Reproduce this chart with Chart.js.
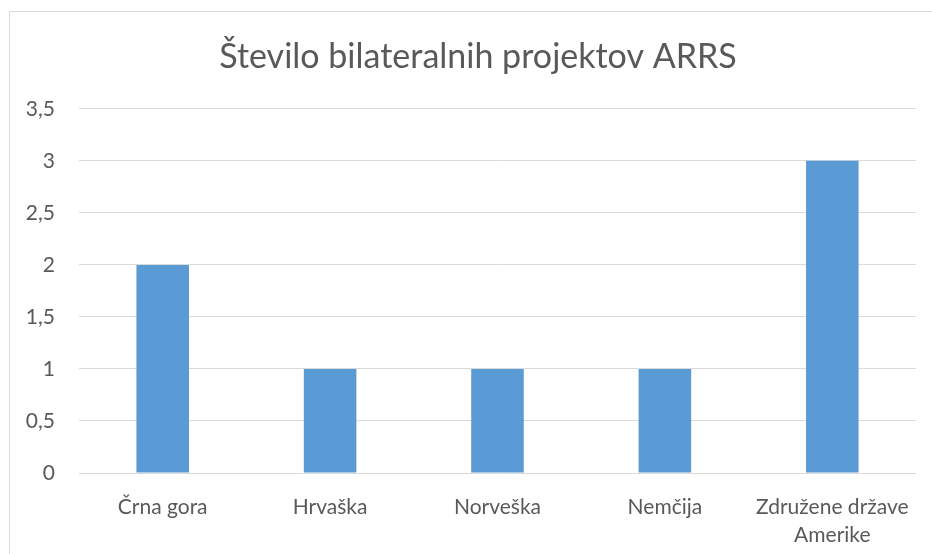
<!DOCTYPE html>
<html>
<head>
<meta charset="utf-8">
<script src="https://cdn.jsdelivr.net/npm/chart.js@4"></script>
<style>
  body { margin: 0; background: #fff; }
  #frame { position: absolute; left: 9px; top: 11px; width: 960px; height: 580px; border: 1px solid #d9d9d9; }
  #wrap { position: absolute; left: 0; top: 0; width: 932px; height: 554px; }
</style>
</head>
<body>
<div id="frame"></div>
<div id="wrap"><canvas id="chart"></canvas></div>
<script>
const categories = ['Črna gora', 'Hrvaška', 'Norveška', 'Nemčija', ['Združene države', 'Amerike']];
const projects = [2, 1, 1, 1, 3];
const chartTitle = 'Število bilateralnih projektov ARRS';

const textColor = '#595959';
const gridColor = '#d9d9d9';

// the original title sits a bit right of the canvas centre
const titleShift = {
    id: 'titleShift',
    afterLayout(chart) {
        if (chart.titleBlock) chart.titleBlock.left += 40;
    }
};

function initializeChart() {
    const ctx = document.getElementById('chart').getContext('2d');
    new Chart(ctx, {
        type: 'bar',
        data: {
            labels: categories,
            datasets: [{
                label: chartTitle,
                data: projects,
                backgroundColor: '#5b9bd5',
                categoryPercentage: 1,
                barPercentage: 0.314
            }]
        },
        options: {
            responsive: true,
            maintainAspectRatio: false,
            animation: false,
            layout: { padding: { left: 0, right: 16, top: 0, bottom: 0 } },
            plugins: {
                legend: { display: false },
                tooltip: { enabled: false },
                title: {
                    display: true,
                    text: chartTitle,
                    color: textColor,
                    font: { family: 'Lato', size: 34, weight: 'normal', lineHeight: 1.2 },
                    padding: { top: 37, bottom: 31 }
                }
            },
            scales: {
                y: {
                    min: 0,
                    max: 3.5,
                    border: { display: false },
                    grid: { color: gridColor, drawTicks: false },
                    afterFit: scale => { scale.width = 79; },
                    ticks: {
                        stepSize: 0.5,
                        padding: 24,
                        color: textColor,
                        font: { family: 'Lato', size: 21 },
                        callback: v => String(v).replace('.', ',')
                    }
                },
                x: {
                    border: { display: false },
                    grid: { display: false, drawTicks: false },
                    afterFit: scale => { scale.height = 81; },
                    ticks: {
                        maxRotation: 0,
                        padding: 20,
                        color: textColor,
                        font: { family: 'Lato', size: 21, lineHeight: 1.33 }
                    }
                }
            }
        },
        plugins: [titleShift]
    });
}

initializeChart();
</script>
</body>
</html>
